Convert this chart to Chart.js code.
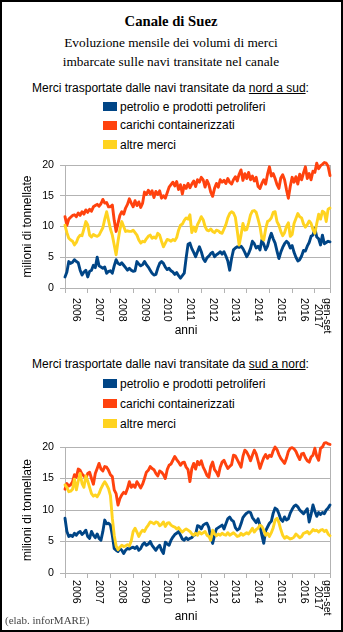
<!DOCTYPE html>
<html lang="it">
<head>
<meta charset="utf-8">
<title>Canale di Suez</title>
<script src="https://cdn.jsdelivr.net/npm/chart.js@4/dist/chart.umd.min.js"></script>
<style>
  html, body { margin: 0; padding: 0; background: #fff; }
  #pagina { position: relative; width: 343px; height: 632px; overflow: hidden; background: #fff; }
  #cornice { position: absolute; left: 0; top: 0; width: 343px; height: 632px; box-sizing: border-box; border: 2px solid #000; z-index: 10; }
  .testo { position: absolute; white-space: nowrap; color: #000; line-height: 1; }
  .serif { font-family: "Liberation Serif", "Times New Roman", serif; }
  .sans { font-family: "Liberation Sans", Arial, sans-serif; }
  .quadro { position: absolute; width: 14px; height: 9px; }
  canvas { position: absolute; left: 0; }
</style>
</head>
<body>
<div id="pagina">
  <div class="testo serif" style="left:0;width:342px;text-align:center;top:13.7px;font-size:14.67px;font-weight:bold;">Canale di Suez</div>
  <div class="testo serif" style="left:0;width:342px;text-align:center;top:34.3px;font-size:13.33px;line-height:18.5px;">Evoluzione mensile dei volumi di merci<br>imbarcate sulle navi transitate nel canale</div>
  <div class="testo sans" style="left:0;width:341px;text-align:center;top:81.5px;font-size:12px;">Merci trasportate dalle navi transitate da <u>nord a sud</u>:</div>
  <div id="legenda1"></div>
  <canvas id="graficoNS" width="343" height="190" style="top:150px;"></canvas>

  <div class="testo sans" style="left:0;width:341px;text-align:center;top:358px;font-size:12px;">Merci trasportate dalle navi transitate da <u>sud a nord</u>:</div>
  <div id="legenda2"></div>
  <canvas id="graficoSN" width="343" height="200" style="top:432px;"></canvas>

  <div class="testo serif" style="left:5px;top:614.8px;font-size:11px;color:#444;">(elab. inforMARE)</div>
  <div id="cornice"></div>
</div>

<script>
// Serie mensili gen 2006 – set 2017 (141 mesi), milioni di tonnellate
const serie = ['petrolio e prodotti petroliferi', 'carichi containerizzati', 'altre merci'];

const anni = ['2006', '2007', '2008', '2009', '2010', '2011', '2012', '2013', '2014', '2015', '2016', ['gen-set', '2017']];
const confiniAnni = [0, 12, 24, 36, 48, 60, 72, 84, 96, 108, 120, 132, 140];
const tickY = [0, 5, 10, 15, 20];

// --- nord -> sud ---
const petrolioNS = [
  1.8, 2.6, 4.3, 4.0, 4.2, 4.6, 4.3, 4.1, 2.9, 2.1, 2.6, 2.9,
  1.8, 2.7, 2.9, 3.7, 3.3, 5.0, 3.6, 3.4, 3.2, 3.4, 2.4, 2.7,
  2.8, 2.4, 3.6, 4.6, 4.0, 3.8, 4.1, 3.7, 3.3, 2.9, 3.2, 2.9,
  2.7, 2.8, 4.3, 3.9, 3.6, 3.8, 4.3, 3.8, 3.4, 2.9, 2.4, 2.1,
  2.2, 3.2, 4.0, 4.3, 4.0, 3.4, 3.0, 3.2, 2.8, 2.6, 2.2, 2.5,
  2.0, 1.6, 2.0, 2.4, 4.9, 7.1, 7.3, 6.4, 5.8, 5.1, 5.9, 6.7,
  5.9, 4.8, 4.3, 4.9, 5.2, 5.6, 5.8, 5.1, 5.4, 5.6, 5.9, 5.5,
  5.9, 5.2, 4.4, 2.9, 4.8, 6.2, 6.5, 6.7, 6.6, 6.8, 6.4, 5.8,
  5.1, 5.6, 6.4, 7.6, 7.2, 6.5, 6.8, 6.2, 7.8, 7.1, 6.2, 6.8,
  8.0, 8.9, 8.0, 7.3, 6.0, 4.8, 5.8, 6.6, 7.2, 7.6, 7.3, 6.5,
  6.9, 5.8, 5.0, 4.4, 4.6, 5.2, 6.1, 6.0, 6.8, 7.4, 8.4, 8.6,
  9.7, 8.3, 8.0, 7.0, 8.6, 7.2, 7.4, 7.6, 7.5
];
const containerNS = [
  11.6, 10.2, 11.2, 11.5, 11.8, 11.9, 11.6, 12.2, 11.8, 12.4, 12.0, 12.7,
  12.3, 12.8, 12.5, 13.2, 13.4, 13.6, 13.3, 13.7, 14.4, 13.8, 13.9, 13.2,
  13.2, 13.5, 11.0, 9.2, 10.5, 11.8, 12.4, 12.0, 13.0, 13.6, 14.5, 13.8,
  13.2, 14.2, 13.4, 14.0, 13.1, 13.8, 15.6, 15.2, 15.9, 15.3, 15.8, 14.7,
  15.7, 15.2, 15.8, 14.6, 15.0, 14.6, 15.5, 16.4, 16.8, 17.2, 16.6, 17.3,
  16.0, 16.8, 15.3, 16.7, 16.2, 17.0, 16.3, 16.9, 17.4, 16.5, 17.6, 17.2,
  18.0, 17.6, 16.4, 17.5, 16.8, 15.6, 14.9, 16.2, 17.0, 16.4, 17.6, 17.2,
  17.5, 17.0, 17.8, 17.2, 16.9, 17.6, 18.1, 17.4, 18.5, 19.2, 17.5, 18.6,
  17.8, 18.8, 17.6, 18.2, 17.4, 18.0, 16.5, 16.2, 17.0, 17.6, 16.9, 18.5,
  19.7, 18.2, 18.6, 17.8, 16.8, 16.2, 17.9, 18.4, 17.6, 16.0, 14.6, 16.5,
  18.0, 17.2, 18.1, 16.9, 18.5, 17.6, 18.7, 19.7, 17.8, 18.6, 17.6, 19.0,
  18.8, 20.3, 19.4, 19.9, 20.1, 20.4, 20.3, 19.8, 18.3
];
const altreNS = [
  10.2, 9.0, 8.1, 7.8, 7.6, 7.0, 7.4, 8.2, 8.6, 8.5, 9.6, 10.8,
  10.3, 8.6, 8.3, 8.7, 8.5, 8.4, 8.6, 9.2, 9.8, 11.2, 12.4, 11.0,
  9.6, 8.6, 7.0, 5.4, 7.6, 9.5, 10.8, 10.0, 9.2, 9.3, 9.2, 9.2,
  9.4, 9.0, 8.6, 7.8, 7.3, 7.6, 7.5, 8.0, 8.4, 8.6, 8.1, 8.3,
  8.1, 8.9, 8.6, 7.6, 6.7, 7.3, 7.9, 7.8, 7.6, 7.9, 7.7, 8.2,
  9.4, 10.2, 10.4, 11.0, 11.4, 11.2, 11.9, 9.0, 9.9, 9.2, 10.3, 10.9,
  11.6, 11.1, 10.0, 9.4, 9.3, 9.6, 9.2, 9.0, 9.4, 9.3, 9.0, 8.9,
  9.6, 10.3, 11.4, 12.1, 12.4, 12.2, 11.5, 9.3, 7.0, 8.6, 10.5, 9.4,
  9.5, 10.6, 11.9, 12.5, 12.6, 12.3, 11.2, 10.0, 8.1, 7.8, 9.6, 10.8,
  11.0, 11.4, 12.3, 12.4, 10.8, 10.2, 9.2, 8.5, 9.0, 10.0, 10.6, 8.4,
  8.7, 10.5, 11.3, 12.1, 11.6, 11.4, 10.4, 9.9, 10.3, 10.9, 10.5, 9.5,
  8.9, 10.5, 12.0, 11.2, 12.5, 12.3, 10.8, 12.8, 13.0
];

// --- sud -> nord ---
const petrolioSN = [
  8.7, 6.6, 5.8, 6.0, 5.8, 6.3, 6.0, 6.4, 6.6, 6.1, 6.4, 6.8,
  5.8, 5.5, 6.6, 6.0, 5.6, 6.2, 5.5, 5.2, 6.6, 8.4, 7.8, 7.9,
  7.6, 6.0, 3.9, 3.6, 3.4, 3.9, 3.6, 3.1, 3.6, 3.9, 3.8, 4.0,
  4.1, 3.9, 4.2, 3.6, 3.9, 4.5, 4.8, 4.4, 4.6, 5.0, 4.4, 4.0,
  3.6, 4.1, 4.4, 3.6, 3.1, 4.9, 4.6, 4.4, 5.2, 5.7, 6.1, 6.3,
  6.6, 6.0, 5.4, 5.2, 5.6, 5.3, 5.5, 5.6, 6.0, 6.1, 7.5, 7.4,
  7.0, 7.6, 7.8, 7.9, 7.2, 5.6, 4.7, 6.0, 7.0, 7.2, 7.4, 7.6,
  7.0, 7.8, 8.6, 8.9, 8.4, 8.2, 7.2, 6.8, 7.0, 7.8, 8.8, 9.2,
  9.5, 9.7, 9.6, 8.8, 8.4, 8.0, 8.6, 7.6, 6.0, 4.7, 6.7, 7.3,
  7.9, 8.2, 9.5, 10.3, 10.1, 9.4, 8.5, 8.2, 8.9, 8.4, 8.6, 9.5,
  10.1, 10.6, 10.8, 10.5, 10.0, 9.7, 9.4, 9.8, 10.2, 8.1, 9.3, 10.8,
  9.8, 9.0, 9.6, 9.3, 9.6, 9.4, 10.0, 10.3, 10.8
];
const containerSN = [
  13.3, 14.2, 13.8, 14.0, 14.5, 15.6, 15.2, 16.5, 16.3, 15.7, 15.4, 15.0,
  15.8, 16.0, 15.0, 14.1, 15.8, 16.6, 17.4, 16.5, 16.2, 16.9, 16.8, 16.3,
  15.6, 15.3, 13.2, 12.6, 10.8, 11.8, 12.4, 12.8, 12.6, 13.4, 14.5, 13.6,
  14.0, 13.6, 14.5, 14.0, 13.5, 14.1, 15.0, 16.0, 16.3, 16.9, 16.6, 16.4,
  15.8, 15.4, 16.2, 16.0, 15.6, 15.0, 16.4, 17.1, 17.3, 17.9, 18.5, 18.0,
  17.6, 17.1, 17.5, 17.6, 16.8, 16.4, 14.5, 16.6, 17.4, 16.5, 17.7, 17.2,
  17.8, 16.8, 16.2, 15.5, 15.2, 16.9, 17.6, 16.4, 16.0, 15.4, 16.8, 17.6,
  17.9, 17.2, 16.6, 16.9, 17.2, 18.7, 18.6, 18.0, 17.4, 16.8, 18.5, 19.5,
  19.2, 18.6, 17.8, 18.7, 19.5, 18.9, 17.8, 16.6, 17.5, 18.3, 18.8, 18.2,
  18.7, 18.5, 19.4, 20.0, 19.6, 18.8, 18.2, 17.8, 17.4, 18.2, 19.3, 19.8,
  19.9, 19.7, 19.3, 18.6, 18.0, 18.9, 19.0, 18.3, 17.8, 17.6, 18.4, 18.7,
  19.8, 18.5, 17.9, 19.8, 20.0, 20.6, 20.7, 20.5, 20.4
];
const altreSN = [
  14.0, 13.6, 12.9, 13.0, 13.3, 14.9, 13.2, 14.6, 15.8, 14.2, 13.6, 15.4,
  14.6, 13.6, 12.6, 12.2, 12.4, 12.1, 12.6, 13.4, 14.0, 14.5, 14.0, 13.4,
  12.3, 8.7, 6.0, 4.3, 3.7, 4.1, 4.4, 4.2, 4.3, 4.5, 4.3, 5.1,
  6.6, 7.1, 6.5, 5.8, 6.4, 6.8, 6.6, 7.2, 7.6, 8.1, 8.0, 7.8,
  8.1, 8.0, 7.5, 7.7, 8.1, 7.4, 7.9, 8.0, 7.6, 7.4, 7.3, 7.0,
  7.2, 6.8, 6.5, 6.8, 7.0, 6.8, 6.6, 6.2, 6.0, 6.3, 6.0, 6.5,
  6.2, 6.4, 6.6, 6.0, 5.8, 5.2, 6.8, 6.2, 5.9, 6.2, 6.0, 6.3,
  6.1, 6.0, 6.4, 6.0, 6.2, 6.4, 6.1, 5.8, 5.9, 6.3, 6.0, 6.2,
  6.4, 6.2, 6.6, 7.1, 6.5, 6.9, 7.1, 7.6, 7.4, 6.8, 6.0, 6.3,
  5.8, 6.4, 7.2, 8.4, 8.7, 8.0, 6.9, 6.0, 5.5, 5.8, 5.6, 5.4,
  5.5, 5.7, 6.2, 5.9, 5.6, 5.8, 6.3, 6.4, 6.6, 6.2, 6.5, 6.9,
  6.7, 6.8, 6.5, 6.8, 6.9, 6.6, 6.8, 6.2, 5.9
];

// Stili
const COLORI = ['#004586', '#ff420e', '#ffd320'];
const GRIGIO = '#b3b3b3';
const SANS = '"Liberation Sans", Arial, sans-serif';

// Legende HTML (riquadro colorato + etichetta)
function creaLegenda(id, centri) {
  const box = document.getElementById(id);
  serie.forEach((nome, k) => {
    const q = document.createElement('div');
    q.className = 'quadro';
    q.style.left = '103px';
    q.style.top = (centri[k] - 4.5) + 'px';
    q.style.background = COLORI[k];
    box.appendChild(q);
    const t = document.createElement('div');
    t.className = 'testo sans';
    t.style.left = '120px';
    t.style.top = (centri[k] - 5.66) + 'px';
    t.style.fontSize = '12px';
    t.textContent = nome;
    box.appendChild(t);
  });
}
creaLegenda('legenda1', [106.3, 125, 144.7]);
creaLegenda('legenda2', [383.3, 403.7, 423.7]);

// Etichette degli anni ruotate (lette dall'alto in basso) e titolo asse x
const etichetteAnni = {
  id: 'etichetteAnni',
  afterDraw(chart, args, opts) {
    const { ctx, chartArea } = chart;
    const x = chart.scales.x;
    ctx.save();
    ctx.fillStyle = '#000';
    ctx.font = '10.67px ' + SANS;
    ctx.textBaseline = 'middle';
    ctx.textAlign = 'left';
    const lh = 9;
    anni.forEach((lab, k) => {
      const cx = x.getPixelForValue((confiniAnni[k] + confiniAnni[k + 1]) / 2);
      const righe = Array.isArray(lab) ? lab : [lab];
      const maxW = Math.max(...righe.map(r => ctx.measureText(r).width));
      ctx.save();
      ctx.translate(cx, chartArea.bottom + opts.distanza);
      ctx.rotate(Math.PI / 2);
      righe.forEach((r, j) => {
        const w = ctx.measureText(r).width;
        const dy = (j - (righe.length - 1) / 2) * lh;
        ctx.fillText(r, (maxW - w) / 2, dy);
      });
      ctx.restore();
    });
    ctx.font = '12px ' + SANS;
    ctx.textAlign = 'center';
    ctx.textBaseline = 'alphabetic';
    ctx.fillText('anni', opts.titoloX, opts.titoloY);
    ctx.restore();
  }
};

function creaGrafico(id, petrolio, container, altre, pos) {
  const valori = [petrolio, container, altre];
  const ordine = [2, 1, 0];
  return new Chart(document.getElementById(id), {
    type: 'line',
    data: {
      datasets: valori.map((v, k) => ({
        label: serie[k],
        data: v.map((y, i) => ({ x: i, y })),
        borderColor: COLORI[k],
        backgroundColor: COLORI[k],
        order: ordine[k],
        clip: false
      }))
    },
    options: {
      responsive: false,
      animation: false,
      events: [],
      elements: {
        point: { radius: 0 },
        line: { borderWidth: 2.9, tension: 0, borderJoinStyle: 'round', borderCapStyle: 'round', fill: false }
      },
      layout: { padding: { top: 15, right: 13, left: 0, bottom: 0 } },
      plugins: {
        legend: { display: false },
        tooltip: { enabled: false },
        etichetteAnni: pos
      },
      scales: {
        x: {
          type: 'linear',
          min: confiniAnni[0],
          max: confiniAnni[confiniAnni.length - 1],
          afterBuildTicks: s => { s.ticks = confiniAnni.map(v => ({ value: v })); },
          afterFit: s => { s.height = pos.altezzaX; },
          ticks: { display: false },
          grid: {
            color: c => (c.index === confiniAnni.length - 1) ? GRIGIO : 'rgba(0,0,0,0)',
            tickColor: GRIGIO,
            tickLength: 5,
            lineWidth: 1
          },
          border: { color: GRIGIO }
        },
        y: {
          min: tickY[0],
          max: tickY[tickY.length - 1],
          afterBuildTicks: s => { s.ticks = tickY.map(v => ({ value: v })); },
          afterFit: s => { s.width = 65; },
          ticks: { padding: 6, color: '#000', font: { family: SANS, size: 10.67 } },
          grid: { color: GRIGIO, tickColor: GRIGIO, tickLength: 5, lineWidth: 1 },
          border: { color: GRIGIO },
          title: {
            display: true,
            text: 'milioni di tonnellate',
            color: '#000',
            font: { family: SANS, size: 12 },
            padding: { top: 20, bottom: 0 }
          }
        }
      }
    },
    plugins: [etichetteAnni]
  });
}

creaGrafico('graficoNS', petrolioNS, containerNS, altreNS,
  { altezzaX: 52, distanza: 10, titoloX: 186, titoloY: 184 });
creaGrafico('graficoSN', petrolioSN, containerSN, altreSN,
  { altezzaX: 59, distanza: 7, titoloX: 186, titoloY: 188 });
</script>
</body>
</html>
